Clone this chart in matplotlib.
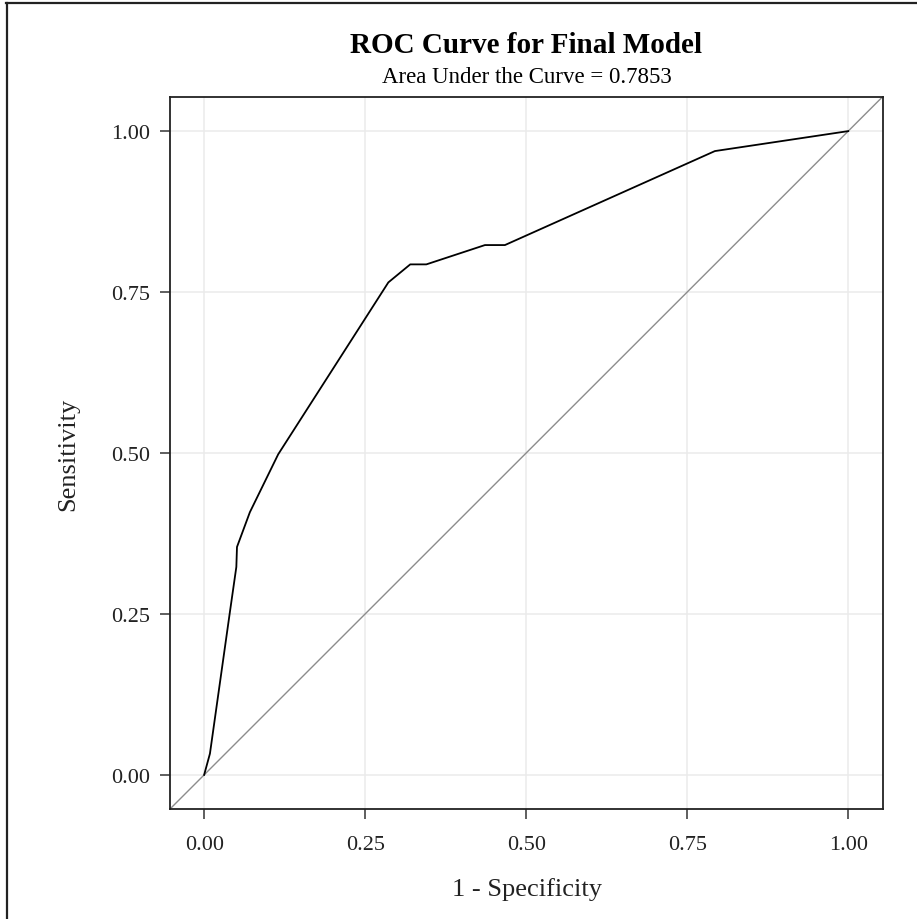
import matplotlib
matplotlib.use('Agg')

import matplotlib.pyplot as plt
from matplotlib.lines import Line2D

plt.rcParams['font.family'] = ['Liberation Serif', 'DejaVu Serif']

# ROC points
fpr = [0.0, 0.009, 0.040, 0.050, 0.051, 0.071, 0.115, 0.286, 0.320, 0.345, 0.436, 0.467, 0.793, 1.0]
tpr = [0.0, 0.033, 0.253, 0.323, 0.354, 0.408, 0.498, 0.765, 0.793, 0.793, 0.823, 0.823, 0.969, 1.0]
ticks = [0.0, 0.25, 0.5, 0.75, 1.0]
tick_labels = ['0.00', '0.25', '0.50', '0.75', '1.00']
auc = 0.7853

W, H = 917, 920
fig = plt.figure(figsize=(W / 100, H / 100), dpi=100)
ax = fig.add_axes([170 / W, 1 - 810 / H, 713 / W, 712 / H])

ax.grid(True, color='#EBEBEB', linewidth=1.1)
ax.set_axisbelow(True)
ax.axline((0, 0), slope=1, color='#8c8c8c', linewidth=1.0)
ax.plot(fpr, tpr, color='black', linewidth=1.3)

ax.set_xlim(-0.053, 1.054)
ax.set_ylim(-0.053, 1.053)
ax.set_xticks(ticks)
ax.set_xticklabels(tick_labels)
ax.set_yticks(ticks)
ax.set_yticklabels(tick_labels)
ax.tick_params(axis='both', direction='out', length=7, width=1.1, color='#333333',
               labelsize=16, labelcolor='#222222')
ax.tick_params(axis='x', pad=12)
ax.tick_params(axis='y', pad=7)
for s in ax.spines.values():
    s.set_linewidth(1.3)
    s.set_color('#222222')

fig.text(526.5 / W, 1 - 896 / H, '1 - Specificity', ha='center', va='baseline',
         fontsize=19, color='#222222')
fig.text(68 / W, 1 - 454 / H, 'Sensitivity', ha='center', va='center', rotation=90,
         fontsize=19, color='#222222')

fig.text(526.5 / W, 1 - 53 / H, 'ROC Curve for Final Model', ha='center', va='baseline',
         fontsize=21, fontweight='bold')
fig.text(526.5 / W, 1 - 83 / H, f'Area Under the Curve = {auc}', ha='center', va='baseline',
         fontsize=16.5)

# outer frame (top and left edges)
fig.add_artist(Line2D([6 / W, 1.0], [1 - 4 / H, 1 - 4 / H], transform=fig.transFigure,
                      color='#222222', linewidth=1.6))
fig.add_artist(Line2D([7 / W, 7 / W], [0.0, 1 - 4 / H], transform=fig.transFigure,
                      color='#222222', linewidth=1.6))

fig.savefig('out.png', dpi=100)
